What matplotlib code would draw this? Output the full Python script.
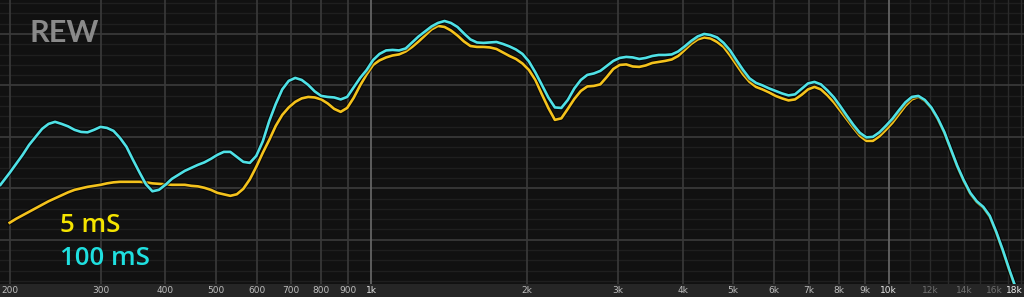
import numpy as np
import matplotlib.pyplot as plt
import matplotlib.patheffects as pe

# measurement frequencies, 1/24 octave from 200 Hz
freq = [200, 205.9, 211.9, 218.1, 224.5, 231.1, 237.8, 244.8, 252.0, 259.4, 267.0, 274.8,
        282.8, 291.1, 299.7, 308.4, 317.5, 326.8, 336.4, 346.2, 356.4, 366.8, 377.5, 388.6,
        400, 411.7, 423.8, 436.2, 449.0, 462.2, 475.7, 489.6, 504.0, 518.7, 533.9, 549.6,
        565.7, 582.3, 599.3, 616.9, 635.0, 653.6, 672.7, 692.4, 712.7, 733.6, 755.1, 777.2,
        800, 823.4, 847.6, 872.4, 898.0, 924.3, 951.4, 979.3, 1008, 1037, 1068, 1099,
        1131, 1165, 1199, 1234, 1270, 1307, 1345, 1385, 1425, 1467, 1510, 1554,
        1600, 1647, 1695, 1745, 1796, 1849, 1903, 1959, 2016, 2075, 2136, 2198,
        2263, 2329, 2397, 2468, 2540, 2614, 2691, 2770, 2851, 2935, 3020, 3109,
        3200, 3294, 3390, 3490, 3592, 3697, 3806, 3917, 4032, 4150, 4272, 4397,
        4525, 4658, 4795, 4935, 5080, 5229, 5382, 5540, 5702, 5869, 6041, 6218,
        6400, 6588, 6781, 6979, 7184, 7394, 7611, 7834, 8063, 8300, 8543, 8793,
        9051, 9316, 9589, 9870, 10159, 10457, 10764, 11079, 11404, 11738, 12082, 12436,
        12800, 13175, 13561, 13959, 14368, 14789, 15223, 15669, 16128, 16601, 17088, 17589,
        18000]

# 100 ms window (cyan), starts a little below 200 Hz
freq_100 = [192] + freq
db_100 = [75.34,
          76.50, 77.38, 78.25, 79.22, 80.00, 80.78, 81.26, 81.46, 81.26, 81.02, 80.68, 80.48,
          80.44, 80.68, 80.97, 80.87, 80.58, 79.90, 79.03, 77.77, 76.55, 75.39, 74.71, 74.85,
          75.34, 75.92, 76.31, 76.70, 76.99, 77.28, 77.52, 77.86, 78.25, 78.54, 78.54, 78.06,
          77.57, 77.47, 78.15, 79.56, 81.55, 83.20, 84.61, 85.44, 85.73, 85.53, 85.05, 84.42,
          83.98, 83.88, 83.83, 83.64, 83.88, 84.80, 85.73, 86.50, 87.47, 88.06, 88.40, 88.45,
          88.40, 88.59, 89.17, 89.76, 90.24, 90.73, 91.07, 91.26, 91.07, 90.68, 90.05, 89.47,
          89.17, 89.13, 89.17, 89.22, 89.03, 88.79, 88.49, 88.06, 87.33, 86.26, 85.05, 83.83,
          82.86, 82.81, 83.59, 84.71, 85.53, 86.02, 86.16, 86.41, 86.89, 87.38, 87.67, 87.77,
          87.72, 87.57, 87.67, 87.86, 87.96, 87.96, 88.01, 88.30, 88.79, 89.32, 89.76, 90.00,
          89.90, 89.66, 89.13, 88.40, 87.43, 86.50, 85.68, 85.24, 85.00, 84.71, 84.46, 84.22,
          84.03, 84.13, 84.66, 85.19, 85.34, 85.10, 84.51, 83.83, 82.96, 82.04, 81.16, 80.39,
          79.95, 80.00, 80.44, 81.07, 81.75, 82.57, 83.35, 83.88, 83.98, 83.59, 82.86, 81.80,
          80.48, 78.83, 77.18, 75.78, 74.56, 73.74, 73.20, 72.33, 70.78, 69.03, 67.13, 65.34,
          63.98]

# 5 ms window (yellow)
freq_5 = freq
db_5 = [71.65, 72.04, 72.38, 72.72, 73.06, 73.40, 73.74, 74.03, 74.32, 74.61, 74.85, 75.00,
        75.14, 75.24, 75.34, 75.48, 75.58, 75.63, 75.63, 75.63, 75.63, 75.58, 75.48, 75.44,
        75.39, 75.34, 75.34, 75.34, 75.24, 75.19, 75.05, 74.85, 74.56, 74.42, 74.27, 74.42,
        74.95, 75.87, 77.09, 78.45, 79.71, 81.07, 82.13, 82.86, 83.40, 83.74, 83.88, 83.83,
        83.64, 83.25, 82.72, 82.43, 82.81, 83.79, 85.00, 86.07, 86.99, 87.43, 87.72, 87.91,
        88.01, 88.30, 88.74, 89.27, 89.85, 90.44, 90.78, 90.68, 90.34, 89.85, 89.27, 88.83,
        88.74, 88.74, 88.69, 88.54, 88.20, 87.86, 87.57, 87.13, 86.50, 85.53, 84.13, 82.81,
        81.65, 81.80, 82.72, 83.69, 84.46, 84.90, 84.95, 85.10, 85.82, 86.60, 86.99, 87.04,
        86.84, 86.80, 86.94, 87.18, 87.28, 87.38, 87.52, 87.86, 88.45, 89.03, 89.47, 89.66,
        89.56, 89.22, 88.74, 87.91, 86.99, 86.07, 85.34, 84.85, 84.61, 84.32, 83.98, 83.74,
        83.54, 83.64, 84.08, 84.61, 84.85, 84.61, 84.03, 83.35, 82.52, 81.70, 80.87, 80.10,
        79.61, 79.61, 80.05, 80.68, 81.36, 82.18, 83.01, 83.64, 83.88, 83.49, 82.77, 81.70,
        80.39, 78.74, 77.09, 75.68, 74.46, 73.64, 73.11, 72.23, 70.68, 68.93, 67.04, 65.24,
        63.88]

major_ticks = [200, 300, 400, 500, 600, 700, 800, 900, 1000, 2000, 3000, 4000,
               5000, 6000, 7000, 8000, 9000, 10000]
major_labels = ['200', '300', '400', '500', '600', '700', '800', '900', '1k', '2k',
                '3k', '4k', '5k', '6k', '7k', '8k', '9k', '10k']
high_ticks = [11000, 12000, 13000, 14000, 15000, 16000, 17000, 18000]
high_labels = {12000: '12k', 14000: '14k', 16000: '16k'}

fig = plt.figure(figsize=(10.24, 2.97), dpi=100, facecolor='#262626')
ax = fig.add_axes([0, 13 / 297, 1, 284 / 297])
ax.set_facecolor('#111111')
ax.set_xscale('log')
ax.set_xlim(191.6, 18250)
ax.set_ylim(65.7, 93.3)

# horizontal grid: minor every 1 dB, major every 5 dB
for v in range(66, 94):
    if v % 5 == 0:
        ax.axhline(v, color='#3c3c3c', lw=1.2, zorder=1)
    else:
        ax.axhline(v, color='#1f1f1f', lw=1.0, zorder=0.5)

# vertical grid
for f in major_ticks:
    c = '#6a6a6a' if f in (1000, 10000) else '#3a3a3a'
    ax.axvline(f, color=c, lw=1.2, zorder=1)
for f in high_ticks:
    ax.axvline(f, color='#2a2a2a', lw=1.0, zorder=0.5)

stroke = [pe.Stroke(linewidth=3.4, foreground='#000000', alpha=0.6), pe.Normal()]
ax.plot(freq_5, db_5, color='#f4c21c', lw=1.9, zorder=3, solid_joinstyle='round',
        path_effects=stroke)
ax.plot(freq_100, db_100, color='#4fe1e6', lw=1.9, zorder=4, solid_joinstyle='round',
        path_effects=stroke)

ax.set_xticks([])
ax.set_yticks([])
ax.minorticks_off()
for s in ax.spines.values():
    s.set_visible(False)

tr = ax.get_xaxis_transform()
ylab = -0.024
for f, lab in zip(major_ticks, major_labels):
    col = '#e6e6e6' if f in (1000, 10000) else '#bdbdbd'
    ax.text(f, ylab, lab, transform=tr, ha='center', va='center',
            fontsize=6.5, color=col, family='DejaVu Sans', clip_on=False)
for f, lab in high_labels.items():
    ax.text(f, ylab, lab, transform=tr, ha='center', va='center',
            fontsize=6.5, color='#707070', family='DejaVu Sans', clip_on=False)
ax.text(0.999, ylab, '18k', transform=ax.transAxes, ha='right', va='center',
        fontsize=6.5, color='#f0f0f0', family='DejaVu Sans', clip_on=False)

ax.text(0.029, 0.885, 'REW', transform=ax.transAxes, ha='left', va='center',
        fontsize=22, fontweight='bold', color='#8a8a8a', family='Lato')
ax.text(0.059, 0.205, '5 mS', transform=ax.transAxes, ha='left', va='center',
        fontsize=18.5, fontweight='semibold', color='#f5e400', family='Open Sans')
ax.text(0.059, 0.09, '100 mS', transform=ax.transAxes, ha='left', va='center',
        fontsize=18.5, fontweight='semibold', color='#1fe0e0', family='Open Sans')

fig.savefig('out.png', dpi=100, facecolor=fig.get_facecolor())
